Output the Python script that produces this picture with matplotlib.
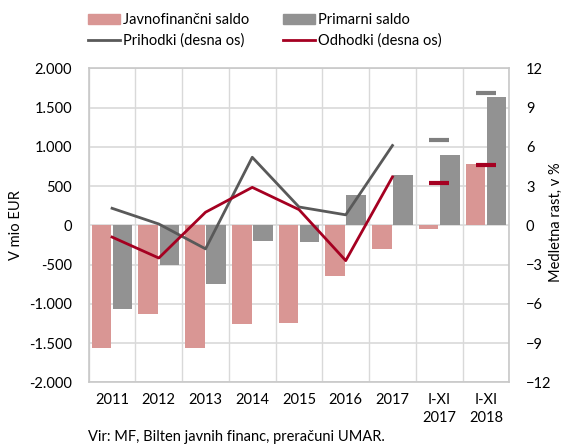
import matplotlib
matplotlib.use("Agg")
import matplotlib.pyplot as plt
import numpy as np
from matplotlib.ticker import FuncFormatter
from matplotlib.lines import Line2D
from matplotlib.patches import Patch

plt.rcParams['font.family'] = ['Lato', 'DejaVu Sans']

categories = ["2011", "2012", "2013", "2014", "2015", "2016", "2017", "I-XI\n2017", "I-XI\n2018"]
javnofinancni = [-1560, -1130, -1560, -1260, -1240, -650, -300, -50, 780]
primarni = [-1070, -500, -750, -200, -210, 380, 640, 890, 1640]
prihodki = [1.3, 0.1, -1.8, 5.2, 1.4, 0.8, 6.1, np.nan, np.nan]
odhodki = [-0.9, -2.5, 1.0, 2.9, 1.2, -2.7, 3.7, np.nan, np.nan]
prihodki_ixi = [np.nan, np.nan, np.nan, np.nan, np.nan, np.nan, np.nan, 6.5, 10.1]
odhodki_ixi = [np.nan, np.nan, np.nan, np.nan, np.nan, np.nan, np.nan, 3.2, 4.6]

c_pink = "#D99694"
c_gray = "#929292"
c_dark = "#595959"
c_red = "#A50021"
c_grid = "#D9D9D9"
fs = 10.5

fig = plt.figure(figsize=(5.65, 4.46), dpi=100)
ax = fig.add_axes([88.7/565, 1-382.3/446, (509.3-88.7)/565, (382.3-68.3)/446])
x = np.arange(len(categories))
w = 0.42
ax.bar(x - 0.225, javnofinancni, w, color=c_pink, zorder=2)
ax.bar(x + 0.225, primarni, w, color=c_gray, zorder=2)
ax.set_xlim(-0.5, len(categories) - 0.5)
ax.set_ylim(-2000, 2000)
ax.set_yticks(np.arange(-2000, 2001, 500))
ax.yaxis.set_major_formatter(FuncFormatter(lambda v, p: f"{int(v):,}".replace(",", ".")))
ax.set_xticks(x)
ax.set_xticklabels(categories, linespacing=1.3)
ax.set_xticks(np.arange(-0.5, len(categories), 1), minor=True)
ax.grid(True, axis='y', color=c_grid, lw=1.2, zorder=0)
ax.grid(True, axis='x', which='minor', color=c_grid, lw=1.0, zorder=0)
ax.tick_params(axis='both', which='both', length=0, labelsize=fs, colors='black')
ax.tick_params(axis='x', pad=8)
ax.tick_params(axis='y', pad=12)
for s in ax.spines.values():
    s.set_color("#C8C8C8")
    s.set_linewidth(1.2)
ax.set_ylabel("V mio EUR", fontsize=fs, va='center')
ax.yaxis.set_label_coords((16 - 88.7) / 420.6, 0.5)

ax2 = ax.twinx()
ax2.set_ylim(-12, 12)
ax2.set_yticks(np.arange(-12, 13, 3))
ax2.plot(x, prihodki, color=c_dark, lw=2, zorder=3)
ax2.plot(x, odhodki, color=c_red, lw=2, zorder=3)
ax2.plot(x, prihodki_ixi, ls='none', marker='_', ms=15, mew=3, color="#7F7F7F")
ax2.plot(x, odhodki_ixi, ls='none', marker='_', ms=15, mew=3, color=c_red)
ax2.tick_params(axis='y', length=0, labelsize=fs, pad=12)
for s in ax2.spines.values():
    s.set_visible(False)
ax2.set_ylabel("Medletna rast, v %", fontsize=fs, va='center', rotation=90)
ax2.yaxis.set_label_coords((556 - 88.7) / 420.6, 0.51)

handles = [Patch(color=c_pink), Patch(color=c_gray),
           Line2D([], [], color=c_dark, lw=2), Line2D([], [], color=c_red, lw=2)]
labels = ["Javnofinančni saldo", "Primarni saldo", "Prihodki (desna os)", "Odhodki (desna os)"]
fig.legend([handles[0], handles[2], handles[1], handles[3]],
           [labels[0], labels[2], labels[1], labels[3]],
           ncol=2, loc='upper center', bbox_to_anchor=(264.5/565, 1.0), frameon=False,
           fontsize=fs, handlelength=2.2, handleheight=0.7, handletextpad=0.2,
           columnspacing=2.3, labelspacing=0.45)

fig.text(88/565, 1-437/446, "Vir: MF, Bilten javnih financ, preračuni UMAR.", fontsize=fs, va='center')

fig.savefig("out.png", dpi=100)
